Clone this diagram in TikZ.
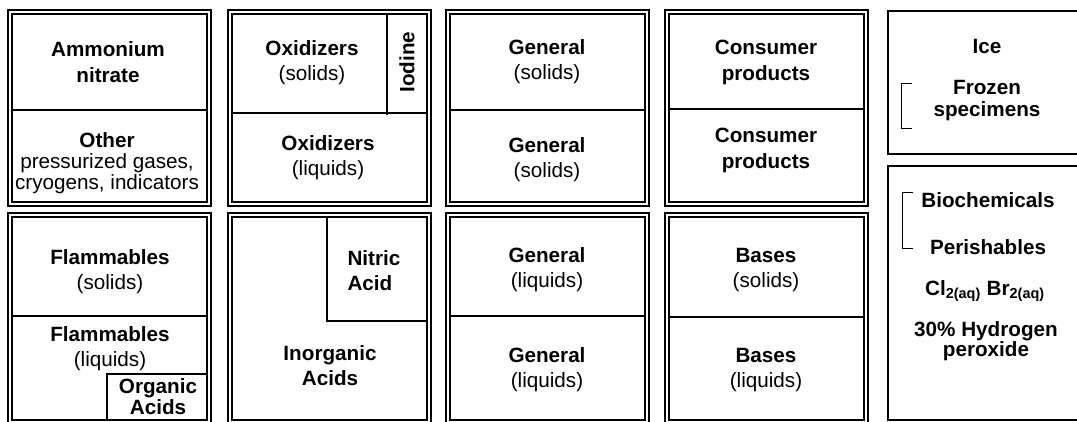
\documentclass[tikz,border=0pt]{standalone}
\usepackage{fontspec}
\setmainfont{Liberation Sans}

\tikzset{every picture/.style={line width=0.75pt}}
\tikzset{
  txt/.style={inner sep=0.75pt, align=center, font=\fontsize{15.5}{18.75}\selectfont},
  wall/.style={line width=1.5},
}

\begin{document}
\begin{tikzpicture}[x=0.75pt,y=0.75pt,yscale=-1,xscale=1]
	\useasboundingbox (0,0) rectangle (1077,421);
	\clip (0,0) rectangle (1077,421);
	
	%Shape: Double Rectangle [id:top1] 
	\draw [wall] (8,10) rectangle (211,206) ;
	\draw [wall] (12,14) rectangle (207,202) ;
	%Shape: Double Rectangle [id:top2] 
	\draw [wall] (228,10) rectangle (431,206) ;
	\draw [wall] (232,14) rectangle (427,202) ;
	%Shape: Double Rectangle [id:top3] 
	\draw [wall] (446,10) rectangle (649,206) ;
	\draw [wall] (450,14) rectangle (645,202) ;
	%Shape: Double Rectangle [id:top4] 
	\draw [wall] (665,10) rectangle (868,206) ;
	\draw [wall] (669,14) rectangle (864,202) ;
	%Shape: Double Rectangle [id:bot1] 
	\draw [wall] (8,213) rectangle (211,424) ;
	\draw [wall] (12,217) rectangle (207,420) ;
	%Shape: Double Rectangle [id:bot2] 
	\draw [wall] (228,213) rectangle (431,424) ;
	\draw [wall] (232,217) rectangle (427,420) ;
	%Shape: Double Rectangle [id:bot3] 
	\draw [wall] (446,213) rectangle (649,424) ;
	\draw [wall] (450,217) rectangle (645,420) ;
	%Shape: Double Rectangle [id:bot4] 
	\draw [wall] (665,213) rectangle (868,424) ;
	\draw [wall] (669,217) rectangle (864,420) ;
	%Shape: Rectangle [id:cold1] 
	\draw [wall] (888,11) rectangle (1090,154) ;
	%Shape: Rectangle [id:cold2] 
	\draw [wall] (888,166) rectangle (1090,420) ;
	
	%Straight Lines [id:div1] 
	\draw [wall] (12,110) -- (207,110) ;
	\draw [wall] (12,316) -- (207,316) ;
	\draw [wall] (107,420) -- (107,374) -- (207,374) ;
	%Straight Lines [id:div2] 
	\draw [wall] (232,113) -- (427,113) ;
	\draw [wall] (387,14) -- (387,115) ;
	\draw [wall] (327,217) -- (327,321) -- (427,321) ;
	%Straight Lines [id:div3] 
	\draw [wall] (450,110) -- (645,110) ;
	\draw [wall] (450,316) -- (645,316) ;
	%Straight Lines [id:div4] 
	\draw [wall] (669,109) -- (864,109) ;
	\draw [wall] (669,317) -- (864,317) ;
	%Bracket Lines [id:brk] 
	\draw (912,83) -- (901,83) -- (901,128) -- (912,128) ;
	\draw (913,192) -- (902,192) -- (902,248) -- (913,248) ;
	
	% Text Node
	\draw (108,62) node [txt,font=\fontsize{15.5}{19.5}\selectfont] (amm) {\textbf{Ammonium}\\\textbf{nitrate}};
	% Text Node
	\draw (107,163) node [txt,font=\fontsize{15.5}{15.75}\selectfont] (oth) {\textbf{Other}\\pressurized gases,\\cryogens, indicators};
	% Text Node
	\draw (312,63) node [txt] (oxs) {\textbf{Oxidizers}\\(solids)};
	% Text Node
	\draw (407,62) node [txt,rotate=90] (iod) {\textbf{Iodine}};
	% Text Node
	\draw (328,158) node [txt] (oxl) {\textbf{Oxidizers}\\(liquids)};
	% Text Node
	\draw (547,62) node [txt] (gs1) {\textbf{General}\\(solids)};
	% Text Node
	\draw (547,160) node [txt] (gs2) {\textbf{General}\\(solids)};
	% Text Node
	\draw (766,62) node [txt,font=\fontsize{15.5}{19.5}\selectfont] (cp1) {\textbf{Consumer}\\\textbf{products}};
	% Text Node
	\draw (766,150) node [txt,font=\fontsize{15.5}{19.5}\selectfont] (cp2) {\textbf{Consumer}\\\textbf{products}};
	% Text Node
	\draw (110,272) node [txt] (fls) {\textbf{Flammables}\\(solids)};
	% Text Node
	\draw (110,349) node [txt] (fll) {\textbf{Flammables}\\(liquids)};
	% Text Node
	\draw (158,397) node [txt,font=\fontsize{15.5}{15.75}\selectfont] (org) {\textbf{Organic}\\\textbf{Acids}};
	% Text Node
	\draw (346,271) node [txt,anchor=west,align=left] (nit) {\textbf{Nitric}\\\textbf{Acid}};
	% Text Node
	\draw (330,366) node [txt] (ino) {\textbf{Inorganic}\\\textbf{Acids}};
	% Text Node
	\draw (547,270) node [txt] (gl1) {\textbf{General}\\(liquids)};
	% Text Node
	\draw (547,370) node [txt] (gl2) {\textbf{General}\\(liquids)};
	% Text Node
	\draw (766,270) node [txt] (bas) {\textbf{Bases}\\(solids)};
	% Text Node
	\draw (766,370) node [txt] (bal) {\textbf{Bases}\\(liquids)};
	% Text Node
	\draw (987,46) node [txt] (ice) {\textbf{Ice}};
	% Text Node
	\draw (987,101) node [txt,font=\fontsize{15.5}{16.5}\selectfont] (frz) {\textbf{Frozen}\\\textbf{specimens}};
	% Text Node
	\draw (988,200) node [txt] (bio) {\textbf{Biochemicals}};
	% Text Node
	\draw (988,247) node [txt] (per) {\textbf{Perishables}};
	% Text Node
	\draw (985,291) node [txt] (hal) {\textbf{Cl\textsubscript{2(aq)} Br\textsubscript{2(aq)}}};
	% Text Node
	\draw (986,341) node [txt,font=\fontsize{15.5}{15}\selectfont] (hyd) {\textbf{30\% Hydrogen}\\\textbf{peroxide}};
	
\end{tikzpicture}
\end{document}
